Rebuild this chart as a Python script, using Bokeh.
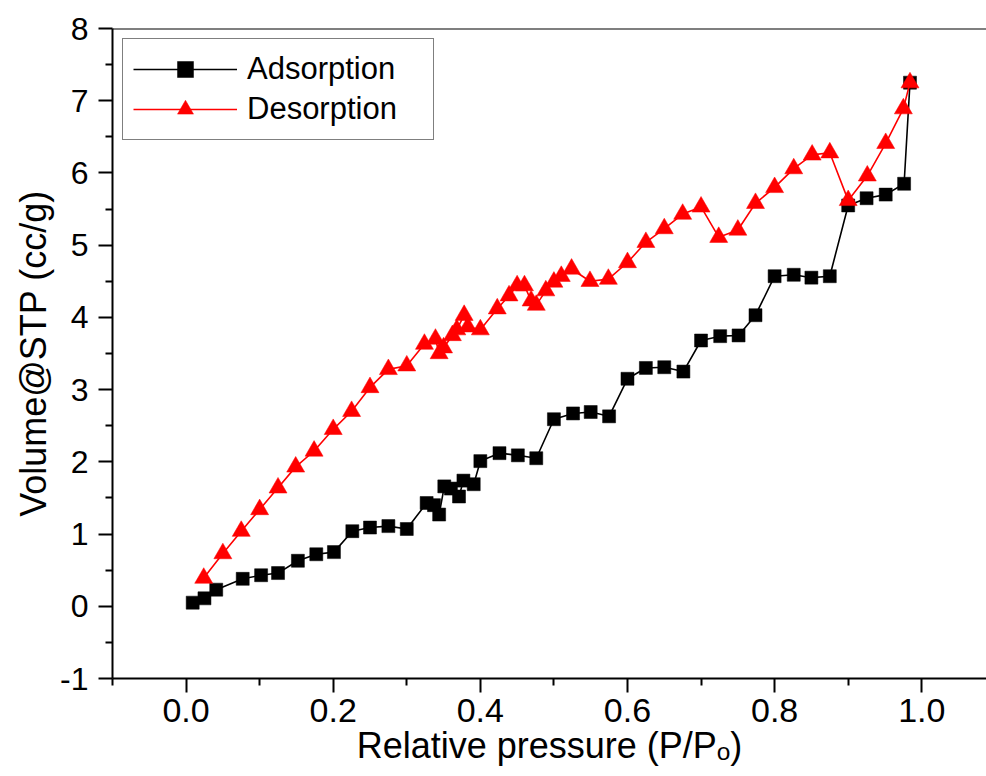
from bokeh.plotting import figure
from bokeh.models import Range1d, FixedTicker, NumeralTickFormatter, Span, Legend, LegendItem
from bokeh.embed import file_html
from bokeh.resources import INLINE

# ---- data ----
ads_x = [0.009, 0.025, 0.041, 0.077, 0.102, 0.125, 0.152, 0.177, 0.201, 0.226,
         0.250, 0.275, 0.300, 0.327, 0.337, 0.344, 0.351, 0.360, 0.371, 0.377,
         0.391, 0.400, 0.426, 0.451, 0.476, 0.500, 0.526, 0.550, 0.575, 0.600,
         0.625, 0.650, 0.676, 0.700, 0.726, 0.751, 0.774, 0.800, 0.826, 0.850,
         0.875, 0.900, 0.925, 0.951, 0.976, 0.984]
ads_y = [0.05, 0.11, 0.23, 0.38, 0.43, 0.46, 0.63, 0.72, 0.75, 1.04,
         1.09, 1.11, 1.07, 1.43, 1.40, 1.27, 1.66, 1.63, 1.52, 1.74,
         1.69, 2.01, 2.12, 2.09, 2.05, 2.59, 2.67, 2.69, 2.63, 3.15,
         3.30, 3.31, 3.25, 3.68, 3.74, 3.75, 4.03, 4.57, 4.59, 4.55,
         4.57, 5.55, 5.65, 5.70, 5.85, 7.25]

des_x = [0.984, 0.975, 0.951, 0.926, 0.900, 0.875, 0.851, 0.826, 0.800, 0.774,
         0.750, 0.724, 0.700, 0.675, 0.650, 0.625, 0.600, 0.574, 0.549, 0.524,
         0.510, 0.500, 0.489, 0.476, 0.469, 0.460, 0.450, 0.439, 0.423, 0.400,
         0.383, 0.378, 0.368, 0.362, 0.350, 0.344, 0.339, 0.324, 0.300, 0.275,
         0.250, 0.225, 0.200, 0.174, 0.149, 0.125, 0.100, 0.075, 0.050, 0.024]
des_y = [7.25, 6.89, 6.41, 5.96, 5.62, 6.28, 6.25, 6.06, 5.80, 5.58,
         5.21, 5.11, 5.53, 5.43, 5.23, 5.04, 4.76, 4.53, 4.50, 4.67,
         4.57, 4.49, 4.37, 4.17, 4.23, 4.44, 4.44, 4.30, 4.12, 3.83,
         3.87, 4.03, 3.83, 3.75, 3.58, 3.50, 3.70, 3.63, 3.33, 3.28,
         3.03, 2.70, 2.45, 2.15, 1.93, 1.64, 1.34, 1.04, 0.73, 0.39]

x_major_ticks = [0.0, 0.2, 0.4, 0.6, 0.8, 1.0]
x_minor_ticks = [-0.1, 0.1, 0.3, 0.5, 0.7, 0.9]
y_major_ticks = [-1, 0, 1, 2, 3, 4, 5, 6, 7, 8]
y_minor_ticks = [-0.5, 0.5, 1.5, 2.5, 3.5, 4.5, 5.5, 6.5, 7.5]
y_tick_labels = {v: str(v) for v in y_major_ticks}

FONT = "Liberation Sans"

p = figure(width=986, height=776, output_backend="svg", toolbar_location=None,
           x_range=Range1d(-0.1, 1.088), y_range=Range1d(-1, 8),
           min_border_left=112, min_border_right=0, min_border_top=28,
           min_border_bottom=98)
p.xgrid.visible = False
p.ygrid.visible = False
p.outline_line_color = None
p.background_fill_color = "white"
p.border_fill_color = "white"

ads_line = p.line(ads_x, ads_y, line_color="black", line_width=1.6)
ads_pts = p.scatter(ads_x, ads_y, marker="square", size=13,
                    fill_color="black", line_color="black", line_width=0.5)
des_line = p.line(des_x, des_y, line_color="#ff0000", line_width=1.6)
des_pts = p.scatter(des_x, des_y, marker="triangle", size=18,
                    fill_color="#ff0000", line_color="#ff0000", line_width=0.5)

p.add_layout(Span(location=8, dimension="width", line_color="black", line_width=2))

for ax in (p.xaxis[0], p.yaxis[0]):
    ax.axis_line_width = 2
    ax.axis_line_color = "black"
    ax.major_tick_line_width = 2
    ax.minor_tick_line_width = 2
    ax.major_tick_in = 0
    ax.major_tick_out = 14
    ax.minor_tick_in = 0
    ax.minor_tick_out = 7
    ax.major_label_text_font = FONT
    ax.major_label_text_color = "black"
    ax.axis_label_text_font = FONT
    ax.axis_label_text_font_style = "normal"
    ax.axis_label_text_color = "black"
    ax.axis_label_text_font_size = "36px"

p.xaxis.ticker = FixedTicker(ticks=x_major_ticks, minor_ticks=x_minor_ticks)
p.yaxis.ticker = FixedTicker(ticks=y_major_ticks, minor_ticks=y_minor_ticks)
p.xaxis.formatter = NumeralTickFormatter(format="0.0")
p.yaxis.major_label_overrides = y_tick_labels
p.xaxis.major_label_text_font_size = "34px"
p.yaxis.major_label_text_font_size = "32px"
p.xaxis.major_label_standoff = 6
p.yaxis.major_label_standoff = 10
p.xaxis.axis_label = "Relative pressure (P/P\u2092)"
p.yaxis.axis_label = "Volume@STP (cc/g)"
p.xaxis.axis_label_standoff = 0
p.yaxis.axis_label_standoff = 3

legend = Legend(items=[LegendItem(label="Adsorption", renderers=[ads_line, ads_pts]),
                       LegendItem(label="Desorption", renderers=[des_line, des_pts])],
                location="top_left", margin=10, padding=10, spacing=0,
                glyph_width=104, glyph_height=40, label_standoff=10,
                label_width=176, label_height=40,
                label_text_font=FONT, label_text_font_size="31px",
                label_text_color="black",
                border_line_color="black", border_line_width=1,
                background_fill_color="white", background_fill_alpha=1)
p.add_layout(legend)

open("out.html", "w").write(file_html(p, INLINE))
